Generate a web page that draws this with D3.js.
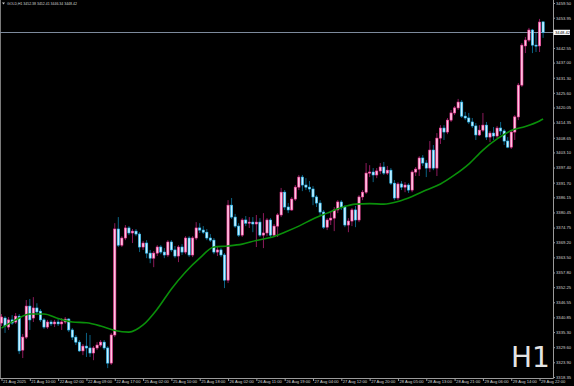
<!DOCTYPE html>
<html>
<head>
<meta charset="utf-8">
<script src="https://cdn.jsdelivr.net/npm/d3@7"></script>
<style>
  html, body { margin: 0; padding: 0; background: #000; overflow: hidden; }
  svg { display: block; font-family: "Liberation Sans", Arial, sans-serif; }
</style>
</head>
<body>
<svg id="chart" width="574" height="386"></svg>
<script>
// GOLD H1, 21 Aug - 29 Aug 2025, one value per hourly bar
const opens = [
  3338.7, 3340.6, 3337.2, 3339.9, 3339.1, 3341.3, 3328.5, 3333.4, 3345.1, 3340.6,
  3344.4, 3343.2, 3339.9, 3337.2, 3339.1, 3338.4, 3339.1, 3338.4, 3339.1, 3340.2,
  3336.1, 3333.4, 3331.5, 3328.2, 3330.0, 3329.3, 3327.4, 3329.3, 3330.4, 3331.5,
  3329.3, 3323.6, 3334.2, 3374.2, 3368.1, 3370.8, 3374.6, 3372.7, 3373.4, 3372.3,
  3367.4, 3368.9, 3365.1, 3363.2, 3365.1, 3367.4, 3365.5, 3364.4, 3369.3, 3366.3,
  3364.0, 3367.4, 3365.5, 3370.8, 3364.4, 3370.8, 3374.6, 3373.8, 3373.0, 3370.8,
  3370.0, 3365.5, 3366.3, 3364.4, 3354.9, 3383.2, 3378.7, 3375.3, 3371.9, 3377.6,
  3376.4, 3376.8, 3376.1, 3376.8, 3371.9, 3372.7, 3377.6, 3371.9, 3375.3, 3379.5,
  3388.1, 3382.5, 3381.4, 3385.5, 3390.0, 3393.8, 3390.8, 3390.0, 3389.3, 3386.3,
  3384.0, 3380.6, 3374.9, 3377.6, 3378.3, 3381.4, 3384.4, 3382.5, 3375.7, 3377.2,
  3381.4, 3377.6, 3386.3, 3388.1, 3395.3, 3395.7, 3394.6, 3396.1, 3397.6, 3395.3,
  3396.4, 3391.5, 3385.9, 3391.2, 3390.0, 3390.8, 3388.9, 3395.7, 3396.8, 3401.0,
  3399.1, 3397.2, 3404.0, 3397.2, 3408.5, 3412.3, 3410.8, 3415.3, 3418.0, 3419.9,
  3422.1, 3416.8, 3416.1, 3414.6, 3413.1, 3409.7, 3411.5, 3413.4, 3408.9, 3410.4,
  3409.3, 3412.3, 3411.2, 3407.4, 3405.1, 3410.8, 3416.5, 3428.5, 3443.3, 3445.5,
  3449.3, 3443.6, 3443.3, 3452.38
]
const highs = [
  3342.1, 3341.3, 3341.0, 3341.7, 3342.5, 3342.1, 3334.6, 3347.4, 3347.8, 3348.5,
  3346.2, 3344.0, 3340.6, 3339.9, 3339.9, 3339.9, 3340.2, 3340.6, 3341.0, 3340.6,
  3336.8, 3334.2, 3332.3, 3330.8, 3335.0, 3334.2, 3330.0, 3331.5, 3332.3, 3332.3,
  3330.0, 3335.0, 3376.4, 3378.7, 3371.5, 3375.7, 3375.3, 3374.2, 3374.2, 3373.0,
  3369.7, 3370.0, 3366.3, 3365.9, 3368.1, 3368.1, 3367.0, 3370.0, 3370.0, 3367.8,
  3368.1, 3368.5, 3371.5, 3371.5, 3371.5, 3376.8, 3376.4, 3375.3, 3374.2, 3372.3,
  3370.8, 3367.4, 3367.0, 3365.1, 3385.1, 3385.9, 3379.9, 3376.4, 3378.3, 3379.1,
  3378.7, 3378.7, 3379.5, 3378.3, 3380.2, 3378.3, 3378.3, 3376.1, 3380.2, 3389.7,
  3388.9, 3384.0, 3386.3, 3390.8, 3394.6, 3394.6, 3393.4, 3392.3, 3390.4, 3387.0,
  3385.1, 3381.4, 3378.3, 3380.6, 3382.5, 3385.1, 3385.1, 3383.2, 3378.3, 3382.1,
  3382.9, 3387.0, 3388.9, 3399.1, 3398.3, 3397.2, 3397.2, 3399.1, 3399.5, 3398.0,
  3397.2, 3392.7, 3391.9, 3392.3, 3391.9, 3391.5, 3396.4, 3397.6, 3401.7, 3402.1,
  3400.2, 3407.4, 3405.9, 3410.4, 3413.4, 3413.4, 3416.1, 3419.1, 3420.6, 3423.3,
  3422.9, 3418.4, 3418.0, 3416.1, 3414.2, 3413.4, 3418.0, 3414.6, 3411.2, 3412.7,
  3413.1, 3414.6, 3411.9, 3408.9, 3411.5, 3417.2, 3429.3, 3444.4, 3446.7, 3450.1,
  3449.7, 3448.2, 3453.5, 3452.41
]
const lows = [
  3337.6, 3335.0, 3336.1, 3338.0, 3338.4, 3327.0, 3325.5, 3332.7, 3336.1, 3339.1,
  3341.7, 3339.1, 3336.5, 3336.5, 3337.6, 3337.2, 3337.6, 3336.1, 3338.4, 3335.3,
  3332.3, 3330.4, 3327.8, 3326.6, 3325.9, 3325.9, 3324.7, 3328.5, 3329.6, 3328.5,
  3321.7, 3322.9, 3333.4, 3367.4, 3367.4, 3370.0, 3371.9, 3368.9, 3371.5, 3365.5,
  3366.3, 3363.2, 3361.3, 3359.8, 3364.0, 3364.7, 3363.2, 3363.6, 3365.5, 3363.2,
  3361.7, 3364.4, 3364.7, 3363.6, 3363.6, 3370.0, 3372.7, 3372.3, 3370.0, 3369.3,
  3364.7, 3364.0, 3363.6, 3351.9, 3353.8, 3378.0, 3374.6, 3371.2, 3371.2, 3375.3,
  3374.6, 3373.0, 3367.4, 3371.2, 3367.0, 3371.5, 3371.2, 3371.2, 3371.2, 3378.7,
  3381.4, 3380.2, 3381.0, 3384.8, 3388.9, 3388.5, 3388.9, 3388.1, 3383.2, 3382.5,
  3379.5, 3374.2, 3373.8, 3375.7, 3373.4, 3380.2, 3381.4, 3374.9, 3373.0, 3375.3,
  3374.9, 3376.8, 3385.1, 3387.4, 3393.8, 3391.9, 3393.4, 3394.9, 3394.6, 3394.6,
  3390.8, 3385.1, 3385.1, 3388.9, 3388.1, 3387.8, 3388.1, 3394.2, 3394.2, 3398.0,
  3393.8, 3395.7, 3396.4, 3394.2, 3406.3, 3407.8, 3410.0, 3414.6, 3417.2, 3419.1,
  3416.1, 3415.3, 3413.8, 3412.3, 3407.8, 3409.3, 3410.8, 3407.8, 3407.0, 3407.8,
  3408.5, 3409.7, 3405.9, 3404.7, 3404.4, 3407.8, 3415.3, 3427.8, 3440.6, 3444.8,
  3440.6, 3441.0, 3441.0, 3446.34
]
const closes = [
  3341.0, 3337.6, 3339.9, 3338.7, 3341.3, 3328.2, 3333.4, 3345.1, 3339.9, 3344.4,
  3342.9, 3339.9, 3337.2, 3339.1, 3338.4, 3339.1, 3338.4, 3339.1, 3340.2, 3336.1,
  3333.4, 3331.5, 3328.2, 3330.0, 3329.3, 3327.4, 3329.3, 3330.4, 3331.5, 3329.3,
  3323.6, 3334.2, 3374.2, 3368.1, 3370.8, 3374.6, 3372.7, 3373.4, 3372.3, 3367.4,
  3368.9, 3365.1, 3363.2, 3365.1, 3367.4, 3365.5, 3364.4, 3369.3, 3366.3, 3364.0,
  3367.4, 3365.5, 3370.8, 3364.4, 3370.8, 3374.6, 3373.8, 3373.0, 3370.8, 3370.0,
  3365.5, 3366.3, 3364.4, 3354.9, 3383.2, 3378.7, 3375.3, 3371.9, 3377.6, 3376.4,
  3376.8, 3376.1, 3376.8, 3371.9, 3372.7, 3377.6, 3371.9, 3375.3, 3379.5, 3388.1,
  3382.5, 3381.4, 3385.5, 3390.0, 3393.8, 3390.8, 3390.0, 3389.3, 3386.3, 3384.0,
  3380.6, 3374.9, 3377.6, 3378.3, 3381.4, 3384.4, 3382.5, 3375.7, 3377.2, 3381.4,
  3377.6, 3386.3, 3388.1, 3395.3, 3395.7, 3394.6, 3396.1, 3397.6, 3395.3, 3396.4,
  3391.5, 3385.9, 3391.2, 3390.0, 3390.8, 3388.9, 3395.7, 3396.8, 3401.0, 3399.1,
  3397.2, 3404.0, 3397.2, 3408.5, 3412.3, 3410.8, 3415.3, 3418.0, 3419.9, 3422.1,
  3416.8, 3416.1, 3414.6, 3413.1, 3409.7, 3411.5, 3413.4, 3408.9, 3410.4, 3409.3,
  3412.3, 3411.2, 3407.4, 3405.1, 3410.8, 3416.5, 3428.5, 3443.6, 3445.5, 3449.3,
  3443.6, 3443.3, 3452.3, 3448.42
]

// moving average read at every 4th bar
const maBars = [0, 4, 8, 12, 16, 20, 24, 28, 32, 36, 40, 44, 48, 52, 56, 60, 64, 68, 72, 76,
  80, 84, 88, 92, 96, 100, 104, 108, 112, 116, 120, 124, 128, 132, 136, 140, 144, 148, 152, 153]
const maValues = [3336.8, 3339.9, 3342.1, 3342.1, 3340.4, 3339.1, 3338.8, 3337.6, 3335.9, 3335.3,
  3338.0, 3344.0, 3351.6, 3358.0, 3363.2, 3367.4, 3367.8, 3368.5, 3369.9, 3371.0,
  3373.0, 3375.3, 3378.0, 3380.2, 3382.3, 3383.6, 3383.8, 3383.6, 3384.6, 3386.5,
  3388.9, 3391.2, 3394.6, 3398.7, 3404.0, 3408.2, 3411.4, 3412.9, 3415.0, 3415.7]

const priceTicks = [3459.50, 3453.95, 3442.55, 3437.00, 3431.30, 3425.60, 3420.05, 3414.35,
  3408.65, 3403.10, 3397.40, 3391.70, 3386.15, 3380.45, 3374.75, 3369.20, 3363.50, 3357.80,
  3352.25, 3346.55, 3340.85, 3335.30, 3329.60, 3323.90, 3318.35]

const timeBars = [0, 8, 16, 24, 32, 40, 48, 56, 64, 72, 80, 88, 96, 104, 112, 120, 128, 136, 144, 152]
const timeLabels = ['21 Aug 2025', '21 Aug 10:00', '22 Aug 02:00', '22 Aug 09:00', '22 Aug 17:00',
  '25 Aug 02:00', '25 Aug 10:00', '25 Aug 18:00', '26 Aug 02:00', '26 Aug 11:00', '26 Aug 19:00',
  '27 Aug 04:00', '27 Aug 12:00', '27 Aug 20:00', '28 Aug 05:00', '28 Aug 13:00', '28 Aug 21:00',
  '29 Aug 06:00', '29 Aug 14:00', '29 Aug 22:00']

const symbol = 'GOLD,H1'
const period = 'H1'
const lastPrice = 3448.42

const plotRight = 553
const plotBottom = 378
const textColor = '#d4d4d4'

const svg = d3.select('#chart')

svg.append('rect')
  .attr('width', 574).attr('height', 386)
  .attr('fill', '#000')

const x = d3.scaleLinear()
  .domain([0, opens.length - 1])
  .range([1.5, 543.1])

const y = d3.scaleLinear()
  .domain([3318.35, 3459.50])
  .range([377, 3])

// watermark
svg.append('text')
  .attr('x', 511)
  .attr('y', 367)
  .attr('fill', '#e4e4e4')
  .attr('font-size', 28)
  .attr('font-family', '"DejaVu Sans", sans-serif')
  .text(period)

// frame
svg.append('line')
  .attr('x1', 0.5).attr('x2', 0.5).attr('y1', 0).attr('y2', plotBottom)
  .attr('stroke', '#7a7a7a').attr('stroke-width', 1)
svg.append('line')
  .attr('x1', plotRight + 0.5).attr('x2', plotRight + 0.5).attr('y1', 0).attr('y2', plotBottom + 0.5)
  .attr('stroke', '#9a9a9a').attr('stroke-width', 1)
svg.append('line')
  .attr('x1', 0).attr('x2', plotRight + 0.5).attr('y1', plotBottom + 0.5).attr('y2', plotBottom + 0.5)
  .attr('stroke', '#9a9a9a').attr('stroke-width', 1)

// current price line
svg.append('line')
  .attr('x1', 0).attr('x2', plotRight)
  .attr('y1', Math.round(y(lastPrice)) + 0.5).attr('y2', Math.round(y(lastPrice)) + 0.5)
  .attr('stroke', '#7d8a9c').attr('stroke-width', 1)

const bars = d3.range(opens.length).map(i => ({
  i, o: opens[i], h: highs[i], l: lows[i], c: closes[i]
}))

const colors = {
  up: { wick: '#8c1a5c', stroke: '#ff3fa0', fill: '#ffc6e2' },
  down: { wick: '#0b6284', stroke: '#2ec4ff', fill: '#c9f0ff' }
}

const candle = svg.append('g').selectAll('g')
  .data(bars)
  .join('g')
  .attr('transform', d => `translate(${x(d.i)},0)`)

candle.append('line')
  .attr('y1', d => y(d.h))
  .attr('y2', d => y(d.l))
  .attr('stroke', d => (d.c >= d.o ? colors.up : colors.down).wick)
  .attr('stroke-width', 1)

candle.append('rect')
  .attr('x', -1.1)
  .attr('width', 2.2)
  .attr('y', d => y(Math.max(d.o, d.c)))
  .attr('height', d => Math.max(1, Math.abs(y(d.o) - y(d.c))))
  .attr('fill', d => (d.c >= d.o ? colors.up : colors.down).fill)
  .attr('stroke', d => (d.c >= d.o ? colors.up : colors.down).stroke)
  .attr('stroke-width', 0.6)

// moving average
const maLine = d3.line()
  .x((d, i) => x(maBars[i]))
  .y(d => y(d))
  .curve(d3.curveMonotoneX)

svg.append('path')
  .datum(maValues)
  .attr('d', maLine)
  .attr('fill', 'none')
  .attr('stroke', '#0a8f0a')
  .attr('stroke-width', 1.6)

// price axis
const yAxis = d3.axisRight(y)
  .tickValues(priceTicks)
  .tickFormat(d3.format('.2f'))
  .tickSize(2)
  .tickPadding(1)

const yAxisG = svg.append('g')
  .attr('transform', `translate(${plotRight},0)`)
  .call(yAxis)
yAxisG.select('.domain').remove()
yAxisG.selectAll('line').attr('stroke', '#9a9a9a')
yAxisG.selectAll('text')
  .attr('fill', textColor)
  .attr('font-size', 4.2)
  .attr('font-family', '"Liberation Sans", Arial, sans-serif')

// time axis
const xAxis = d3.axisBottom(x)
  .tickValues(timeBars)
  .tickFormat((d, i) => timeLabels[i])
  .tickSize(3)

const xAxisG = svg.append('g')
  .attr('transform', `translate(0,${plotBottom})`)
  .call(xAxis)
xAxisG.select('.domain').remove()
xAxisG.selectAll('line').attr('stroke', '#9a9a9a')
xAxisG.selectAll('text')
  .attr('fill', textColor)
  .attr('font-size', 4.1)
  .attr('font-family', '"Liberation Sans", Arial, sans-serif')
  .attr('text-anchor', 'start')
  .attr('x', 1)
  .attr('y', 2.2)

// last price label
const lp = y(lastPrice)
svg.append('rect')
  .attr('x', plotRight + 0.5).attr('y', lp - 2.6)
  .attr('width', 16.5).attr('height', 5.2)
  .attr('fill', '#ffffff')
svg.append('text')
  .attr('x', plotRight + 2).attr('y', lp + 1.5)
  .attr('font-size', 4.2)
  .attr('fill', '#000')
  .text(lastPrice.toFixed(2))

// header
svg.append('path')
  .attr('d', 'M2,2.5 L5,2.5 L3.5,4.5 Z')
  .attr('fill', '#c8c8c8')
svg.append('text')
  .attr('x', 7).attr('y', 5.2)
  .attr('font-size', 3.5)
  .attr('fill', textColor)
  .text(`${symbol}  ${opens[opens.length - 1].toFixed(2)} ${highs[highs.length - 1].toFixed(2)} ${lows[lows.length - 1].toFixed(2)} ${closes[closes.length - 1].toFixed(2)}`)
</script>
</body>
</html>
